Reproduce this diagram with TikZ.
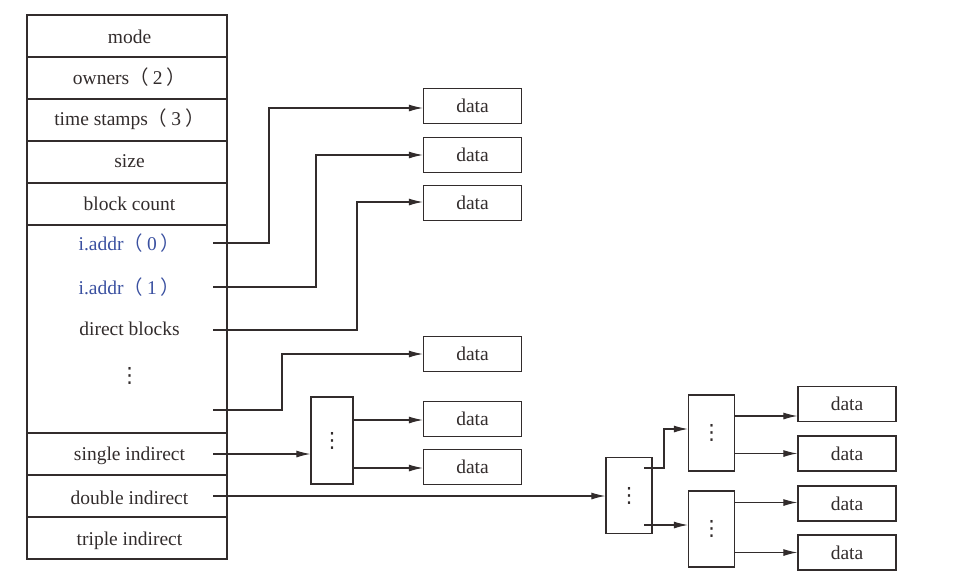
\documentclass[tikz,border=0pt]{standalone}
\usepackage{fontspec}
\setmainfont{Liberation Serif}
\newfontfamily\cjk{Noto Sans CJK SC}
\newfontfamily\dejavu{DejaVu Sans}
\usetikzlibrary{arrows.meta,calc}
\definecolor{ln}{RGB}{50,44,44}
\definecolor{bl}{RGB}{58,80,160}
\newcommand{\lp}{{\cjk （}\hspace{4pt}}
\newcommand{\rp}{\hspace{4pt}{\cjk ）}}
\newcommand{\vdts}{{\dejavu\fontsize{21}{22}\selectfont ⋮}}
\begin{document}
\begin{tikzpicture}[x=1pt,y=-1pt,
  every node/.style={font=\fontsize{19.5}{22}\selectfont, text=ln},
  row/.style={draw=ln, line width=1.3pt, minimum width=200pt, minimum height=42pt, inner sep=0pt},
  databox/.style={draw=ln, line width=1.3pt, minimum width=98pt, minimum height=35pt, inner sep=0pt},
  ptr/.style={draw=ln, line width=1.3pt, inner sep=0pt},
  lbl/.style={inner sep=0pt},
  arr/.style={draw=ln, line width=1.1pt, -{Latex[length=14pt,width=7pt]}},
  con/.style={draw=ln, line width=1.1pt}]
\useasboundingbox (0,0) rectangle (973,584);
% table
\node[row] (mode) at (127,36) {};
\node[row] (own) at (127,78) {};
\node[row] (ts) at (127,120) {};
\node[row] (size) at (127,162) {};
\node[row] (bc) at (127,204) {};
\node[row, minimum height=208pt] (big) at (127,329) {};
\node[row] (si) at (127,454) {};
\node[row] (di) at (127,496) {};
\node[row] (ti) at (127,538) {};
\node[lbl] at (129.5,37) {mode};
\node[lbl] at (129.5,77) {owners\lp 2\rp};
\node[lbl] at (129.5,119) {time stamps\lp 3\rp};
\node[lbl] at (129.5,161) {size};
\node[lbl] at (129.5,204) {block count};
\node[lbl] at (129.5,456) {single indirect};
\node[lbl] at (129.5,498) {double indirect};
\node[lbl] at (129.5,541) {triple indirect};
\node[lbl, text=bl] (a0) at (129.5,243) {i.addr\lp 0\rp};
\node[lbl, text=bl] (a1) at (129.5,287) {i.addr\lp 1\rp};
\node[lbl] (db) at (129.5,329) {direct blocks};
\node[lbl] (dots) at (129.5,376) {\vdts};
% stub coordinates
\coordinate (s0) at (213,243);
\coordinate (s1) at (213,287);
\coordinate (s2) at (213,330);
\coordinate (s3) at (213,410);
\coordinate (s4) at (213,454);
\coordinate (s5) at (213,496);
% data boxes
\node[databox] (d1) at (472.5,106) {data};
\node[databox] (d2) at (472.5,155) {data};
\node[databox] (d3) at (472.5,203) {data};
\node[databox] (d4) at (472.5,354) {data};
\node[databox] (d5) at (472.5,419) {data};
\node[databox] (d6) at (472.5,467) {data};
% single indirect block
\node[ptr, minimum width=42pt, minimum height=87pt] (ib) at (332,440.5) {\vdts};
% double indirect blocks
\node[ptr, minimum width=46pt, minimum height=76pt] (dbk) at (629,495.5) {\vdts};
\node[ptr, minimum width=46pt, minimum height=76pt] (ub) at (711.5,433) {\vdts};
\node[ptr, minimum width=46pt, minimum height=76pt] (lb) at (711.5,529) {\vdts};
\node[databox] (e1) at (847,404) {data};
\node[databox] (e2) at (847,453.5) {data};
\node[databox] (e3) at (847,503.5) {data};
\node[databox] (e4) at (847,552.5) {data};
% connectors
\draw[arr] (s0) -- ++(56,0) |- ([yshift=-2pt]d1.west);
\draw[arr] (s1) -- ++(103,0) |- (d2.west);
\draw[arr] (s2) -- ++(144,0) |- ([yshift=1pt]d3.west);
\draw[arr] (s3) -- ++(69,0) |- (d4.west);
\draw[arr] (s4) -- (s4 -| ib.west);
\draw[arr] ([yshift=-1pt]ib.east |- d5.west) -- ([yshift=-1pt]d5.west);
\draw[arr] ([yshift=-1pt]ib.east |- d6.west) -- ([yshift=-1pt]d6.west);
\draw[arr] (s5) -- (s5 -| dbk.west);
\coordinate (o1) at (644,468);
\coordinate (o2) at (644,525);
\draw[arr] (o1) -- ++(20,0) |- ([yshift=4pt]ub.west);
\draw[arr] (o2) -- (o2 -| lb.west);
\draw[arr] ([yshift=-12pt]e1.west -| ub.east) -- ([yshift=-12pt]e1.west);
\draw[arr] (e2.west -| ub.east) -- (e2.west);
\draw[arr] ([yshift=1pt]e3.west -| lb.east) -- ([yshift=1pt]e3.west);
\draw[arr] (e4.west -| lb.east) -- (e4.west);
\end{tikzpicture}
\end{document}
